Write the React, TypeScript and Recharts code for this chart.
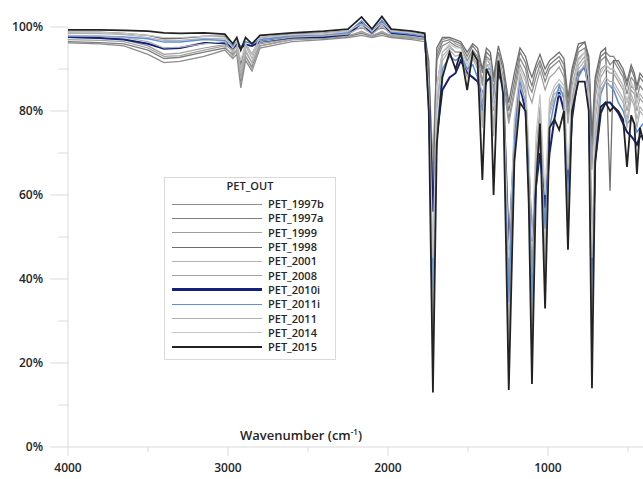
import React from "react"
import { LineChart, Line, XAxis, YAxis, Legend, ReferenceLine } from "recharts"

// wavenumber grid, cm-1 (descending)
const wavenumbers = [
  4000, 3800, 3650, 3500, 3400, 3300, 3150, 3020, 2970, 2945, 2920, 2890, 2850, 2800, 2600, 2400, 2250, 2165, 2100, 2038, 1980, 1850,
  1770, 1745, 1719, 1695, 1660, 1615, 1578, 1545, 1505,
  1470, 1440, 1410, 1385, 1360, 1340, 1310, 1280, 1245,
  1210, 1175, 1140, 1120, 1100, 1075, 1050, 1018, 990,
  960, 930, 900, 875, 850, 810, 770, 745, 725, 705, 670,
  640, 612, 590, 560, 530, 506, 480, 460, 444, 425, 406,
]

// transmittance, %
const pet1997b = [
  96.2, 96.0, 95.5, 93.5, 91.5, 91.8, 93.0, 94.5, 92.5, 93.5, 85.5, 92.0, 89.5, 95.0, 96.5, 97.0, 97.5, 98.0, 97.5, 98.0, 97.5, 97.0,
  96.5, 88, 60, 92, 95.5, 96.5, 95.5, 95, 92,
  94.5, 93, 87, 93, 92, 85, 93, 88, 78,
  85, 92.5, 90, 86, 84.5, 88, 91, 87, 90,
  91, 92, 89.5, 79, 88, 94, 95, 91, 70, 85, 92,
  93, 91, 92, 90, 88, 84, 88, 87, 83, 86, 85,
]
const pet1997a = [
  96.5, 96.3, 96.0, 94.5, 92.5, 92.8, 94.0, 95.0, 93.5, 94.5, 87.0, 93.0, 90.5, 95.5, 97.0, 97.3, 97.8, 98.5, 97.8, 98.5, 97.8, 97.3,
  97, 89, 64, 93, 96.5, 97, 96.5, 96, 93,
  95.5, 94, 89, 94, 93, 87, 94, 90, 80,
  87, 94, 91.5, 88, 86, 90, 92, 88.5, 91,
  92, 93, 91, 81, 89, 95, 96.4, 92, 72, 87, 93,
  94, 93, 93, 91, 89, 86, 90, 88, 85, 88, 87,
]
const pet1999 = [
  97.5, 97.3, 97.0, 95.5, 93.5, 93.8, 95.0, 95.8, 94.5, 95.5, 88.0, 94.0, 91.5, 96.0, 97.3, 97.6, 98.0, 98.8, 98.0, 98.8, 98.0, 97.6,
  97.2, 90, 68, 94, 97, 97.5, 96, 95.5, 92,
  94, 92, 86, 92.5, 91, 84, 92, 87, 77,
  84, 91, 88, 84, 82, 86, 89.5, 85, 88,
  89, 90.5, 88, 77, 86, 92.5, 94, 89, 66, 83, 90,
  91, 90, 90, 88, 86, 82, 86, 85, 82, 84, 83,
]
const pet1998 = [
  98.8, 98.8, 98.5, 98.0, 97.2, 97.3, 97.8, 97.8, 95.0, 96.5, 91.0, 96.0, 93.5, 97.5, 98.3, 98.6, 99.0, 99.8, 99.0, 99.8, 99.0, 98.6,
  98, 92, 58, 95, 97.5, 97.5, 97, 96.5, 94,
  96, 95, 90, 95, 94, 88, 95.5, 91, 82,
  89, 95, 93, 90, 88, 91, 93.5, 90, 92,
  93, 94, 92.5, 83, 90, 96, 96.4, 93, 74, 88, 94,
  95, 61, 92, 92, 90, 87, 91, 89, 86, 89, 88,
]
const pet2001 = [
  98.5, 98.4, 98.2, 97.5, 96.8, 96.8, 97.3, 97.2, 94.0, 96.0, 90.0, 95.5, 92.5, 97.0, 98.0, 98.2, 98.7, 100.5, 98.6, 100.6, 98.6, 98.2,
  97.6, 84, 30, 82, 93, 95, 94, 94, 89,
  93, 91, 78, 91, 90, 76, 92, 85, 28,
  70, 88, 84, 62, 30, 66, 80, 45, 80,
  84, 85, 84, 55, 82, 90, 92, 85, 30, 74, 86,
  88, 87, 87, 85, 83, 78, 84, 82, 78, 81, 80,
]
const pet2008 = [
  97.0, 96.8, 96.5, 95.0, 93.0, 93.2, 94.5, 95.5, 93.0, 94.5, 87.5, 93.0, 90.0, 95.5, 97.0, 97.4, 97.8, 99.0, 97.8, 99.0, 97.8, 97.4,
  97, 86, 40, 86, 94, 95.5, 94, 94, 90,
  93, 91, 82, 91, 91, 80, 92, 86, 40,
  76, 89, 85, 68, 42, 70, 81, 55, 81,
  85, 86.5, 85, 62, 83, 91, 93, 86, 38, 78, 88,
  90, 89, 89, 87, 85, 80, 85, 84, 80, 83, 82,
]
const pet2010i = [
  97.6, 97.4, 97.0, 96.0, 94.8, 95.0, 96.2, 96.2, 95.0, 95.8, 95.0, 95.8, 95.5, 96.5, 97.5, 97.6, 98.2, 101.0, 98.5, 101.2, 98.5, 98.0,
  97.5, 85, 56, 74, 85, 88, 89, 92, 89,
  88, 87, 84, 87, 88, 82, 89, 86, 47,
  72, 86, 80, 66, 49, 62, 70, 57, 70,
  78, 84.5, 80, 60, 78, 89, 90.5, 86, 40, 68, 79.5,
  82, 82, 81, 79.5, 77, 75, 74, 73, 72, 74, 74,
]
const pet2011i = [
  97.8, 97.8, 97.6, 97.2, 96.4, 96.4, 97.0, 96.8, 95.5, 96.5, 95.3, 96.5, 96.0, 97.0, 97.8, 98.0, 98.6, 101.5, 98.8, 101.6, 98.8, 98.3,
  97.8, 80, 38, 74, 90, 93, 92, 93, 90,
  91, 88, 80, 90, 90, 82, 91, 86, 34.5,
  72, 87, 82, 62, 35, 62, 75, 52, 76,
  82, 86, 83, 58, 80, 88, 91, 84, 27, 70, 84,
  87, 86, 85, 82, 80, 77, 78, 77, 75, 76, 77,
]
const pet2011 = [
  98.0, 97.8, 97.5, 96.5, 95.0, 95.2, 96.0, 96.5, 94.0, 95.5, 89.0, 94.5, 91.5, 96.5, 97.6, 97.9, 98.3, 100.0, 98.2, 100.2, 98.2, 97.8,
  97.3, 82, 26, 80, 92, 94.5, 93, 93.5, 88,
  92.5, 90, 76, 90, 89, 74, 91, 84, 24,
  68, 86, 82, 60, 25, 64, 79, 42, 79,
  83, 84, 83, 52, 81, 89, 91, 84, 24, 72, 85,
  87, 86, 86, 84, 82, 76, 83, 81, 76, 80, 79,
]
const pet2014 = [
  98.8, 98.7, 98.5, 98.0, 97.5, 97.5, 97.8, 97.6, 95.0, 96.5, 92.0, 96.0, 93.5, 97.5, 98.2, 98.5, 99.0, 100.8, 99.0, 101.0, 99.0, 98.6,
  98, 86, 45, 86, 94, 96, 95, 95, 91,
  94, 92, 83, 92, 92, 81, 93, 87, 45,
  78, 90, 87, 72, 48, 74, 84, 60, 83,
  86, 87.5, 86, 66, 85, 92, 94, 88, 45, 80, 89,
  91, 90, 90, 88, 86, 82, 87, 85, 82, 84, 83,
]
const pet2015 = [
  99.3, 99.3, 99.2, 99.0, 98.6, 98.5, 98.6, 98.3, 96.0, 97.5, 94.5, 97.5, 96.0, 98.0, 98.6, 99.0, 99.5, 102.4, 99.5, 102.5, 99.5, 99.0,
  98.5, 80, 13, 72, 88, 94, 90, 94, 85,
  94, 92, 63.6, 90, 88, 60, 92, 84, 13.6,
  68, 82, 80, 58, 15, 62, 77, 33, 76,
  78, 75.5, 80, 47, 80, 87, 87, 80, 14, 68, 81,
  82, 80, 81, 80, 78, 66.7, 79, 77, 65, 76, 73,
]

const seriesNames = [
  "PET_1997b", "PET_1997a", "PET_1999", "PET_1998", "PET_2001", "PET_2008",
  "PET_2010i", "PET_2011i", "PET_2011", "PET_2014", "PET_2015",
]
const seriesValues = [
  pet1997b, pet1997a, pet1999, pet1998, pet2001, pet2008,
  pet2010i, pet2011i, pet2011, pet2014, pet2015,
]

const xTicks = [4000, 3500, 3000, 2500, 2000, 1500, 1000, 500]
const yTicks = [0, 10, 20, 30, 40, 50, 60, 70, 80, 90, 100]

const lineStyle: Record<string, { color: string; width: number; key: number }> = {
  PET_1997b: { color: "#8c8c8c", width: 1.3, key: 1.6 },
  PET_1997a: { color: "#7f7f7f", width: 1.3, key: 1.6 },
  PET_1999: { color: "#9d9d9d", width: 1.2, key: 1.4 },
  PET_1998: { color: "#6e6e6e", width: 1.3, key: 1.8 },
  PET_2001: { color: "#b2b2b2", width: 1.2, key: 1.4 },
  PET_2008: { color: "#a3a3a3", width: 1.2, key: 1.4 },
  PET_2010i: { color: "#15207a", width: 2, key: 3 },
  PET_2011i: { color: "#5b8fd8", width: 1.5, key: 1.8 },
  PET_2011: { color: "#afafaf", width: 1.2, key: 1.4 },
  PET_2014: { color: "#c4c4c4", width: 1.2, key: 1.4 },
  PET_2015: { color: "#222222", width: 1.8, key: 2 },
}

const rows = wavenumbers.map((wn, i) => {
  const row: Record<string, number> = { wn }
  seriesNames.forEach((name, k) => {
    row[name] = seriesValues[k][i]
  })
  return row
})

const font = "'Open Sans', 'DejaVu Sans', sans-serif"
const axisGray = "#d9d9d9"

const XTick = (props: any) => {
  const { x, y, payload } = props
  const major = payload.value % 1000 === 0
  return (
    <g>
      <line x1={x} x2={x} y1={y} y2={y + (major ? 9 : 5)} stroke={axisGray} />
      {major && (
        <text x={x} y={y + 25} textAnchor="middle" fontFamily={font} fontSize={12} fontWeight={600} fill="#262626">
          {payload.value}
        </text>
      )}
    </g>
  )
}

const YTick = (props: any) => {
  const { x, y, payload } = props
  const major = payload.value % 20 === 0
  return (
    <g>
      <line x1={x - (major ? 18 : 10)} x2={x} y1={y} y2={y} stroke={axisGray} />
      {major && (
        <text x={x - 25} y={y} dy="0.36em" textAnchor="end" fontFamily={font} fontSize={12} fontWeight={600} fill="#262626">
          {payload.value}%
        </text>
      )}
    </g>
  )
}

const LegendBox = () => (
  <div
    style={{
      border: "1px solid #d9d9d9",
      background: "#fff",
      boxSizing: "border-box",
      width: 172,
      paddingBottom: 5,
      fontFamily: font,
      fontWeight: 600,
      fontSize: 11,
      color: "#262626",
    }}
  >
    <div style={{ textAlign: "center", lineHeight: "16px", marginBottom: 3 }}>PET_OUT</div>
    {seriesNames.map((name) => (
      <div key={name} style={{ display: "flex", alignItems: "center", height: 14.3 }}>
        <div
          style={{
            marginLeft: 7,
            width: 90,
            height: 0,
            borderTop: `${lineStyle[name].key}px solid ${lineStyle[name].color}`,
          }}
        />
        <span style={{ marginLeft: 6, lineHeight: "14px" }}>{name}</span>
      </div>
    ))}
  </div>
)

export default function App() {
  return (
    <div style={{ position: "absolute", left: 0, top: 0, width: 643, height: 479, background: "#fff" }}>
      <LineChart width={643} height={479} data={rows} margin={{ top: 10.2, right: 0, bottom: 0, left: 0 }}>
        <XAxis
          dataKey="wn"
          type="number"
          domain={[406, 4000]}
          reversed
          ticks={xTicks}
          interval={0}
          height={32}
          stroke={axisGray}
          tickLine={false}
          tickSize={0}
          tickMargin={0}
          tick={<XTick />}
        />
        <YAxis
          type="number"
          domain={[0, 104]}
          ticks={yTicks}
          interval={0}
          width={68}
          axisLine={false}
          tickLine={false}
          tickSize={0}
          tickMargin={0}
          tick={<YTick />}
        />
        <ReferenceLine segment={[{ x: 4000, y: 0 }, { x: 4000, y: 100 }]} stroke={axisGray} />
        <Legend
          layout="vertical"
          align="center"
          verticalAlign="middle"
          content={<LegendBox />}
          wrapperStyle={{ left: 164, top: 177, width: 172 }}
        />
        {seriesNames.map((name) => (
          <Line
            key={name}
            dataKey={name}
            type="linear"
            stroke={lineStyle[name].color}
            strokeWidth={lineStyle[name].width}
            dot={false}
            activeDot={false}
            isAnimationActive={false}
          />
        ))}
      </LineChart>
      <div
        style={{
          position: "absolute",
          left: 240,
          top: 426,
          fontFamily: font,
          fontWeight: 600,
          fontSize: 13,
          color: "#262626",
          whiteSpace: "nowrap",
        }}
      >
        Wavenumber (cm<sup style={{ fontSize: 8 }}>-1</sup>)
      </div>
    </div>
  )
}
